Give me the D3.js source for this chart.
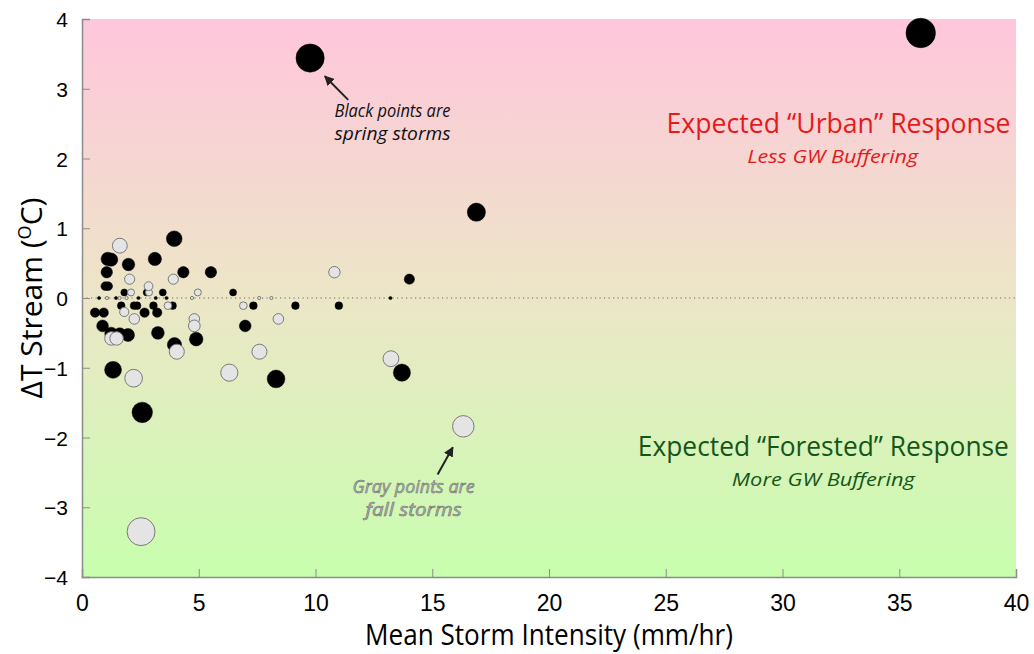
<!DOCTYPE html>
<html>
<head>
<meta charset="utf-8">
<script src="https://cdn.jsdelivr.net/npm/d3@7"></script>
<style>
  html, body { margin: 0; padding: 0; background: #ffffff; }
  svg { display: block; }
</style>
</head>
<body>
<svg id="chart" width="1034" height="654"></svg>
<script>
// Spring storms (black): mean storm intensity (mm/hr) and stream temperature change (°C)
const springIntensity = [9.77, 35.92, 16.89, 3.95, 1.10, 1.25, 1.99, 3.12, 1.06, 4.34, 5.52, 14.02,
  1.00, 1.12, 1.81, 2.77, 3.46, 6.47, 0.73, 1.46, 2.42, 3.16, 3.62, 13.21,
  0.56, 0.93, 1.68, 2.23, 2.36, 3.06, 3.88, 7.34, 9.14, 11.00, 2.68, 3.22,
  0.88, 6.99, 1.25, 1.62, 1.97, 3.25, 4.89, 3.96, 1.33, 2.58, 8.31, 13.70];
const springDeltaT = [3.44, 3.80, 1.23, 0.85, 0.56, 0.55, 0.48, 0.56, 0.37, 0.37, 0.37, 0.27,
  0.17, 0.17, 0.08, 0.08, 0.08, 0.08, 0.00, 0.00, 0.00, 0.00, 0.00, 0.00,
  -0.21, -0.21, -0.11, -0.11, -0.11, -0.11, -0.11, -0.11, -0.11, -0.11, -0.21, -0.21,
  -0.40, -0.40, -0.51, -0.52, -0.53, -0.50, -0.59, -0.67, -1.03, -1.64, -1.16, -1.07];

// Fall storms (gray)
const fallIntensity = [1.62, 2.04, 3.91, 10.81, 2.85, 2.10, 2.87, 4.96, 1.07, 1.61, 1.91, 4.71,
  7.59, 8.11, 3.68, 6.91, 1.81, 2.24, 4.81, 4.81, 8.41, 1.26, 1.48, 4.06,
  7.60, 2.21, 6.31, 13.23, 16.33, 2.53];
const fallDeltaT = [0.75, 0.27, 0.27, 0.37, 0.17, 0.08, 0.08, 0.08, 0.00, 0.00, 0.00, 0.00,
  0.00, 0.00, -0.11, -0.11, -0.20, -0.30, -0.30, -0.40, -0.30, -0.58, -0.58, -0.77,
  -0.77, -1.15, -1.07, -0.87, -1.84, -3.35];

const xTicks = [0, 5, 10, 15, 20, 25, 30, 35, 40];
const yTicks = [-4, -3, -2, -1, 0, 1, 2, 3, 4];

const svg = d3.select("#chart");
const plotLeft = 82, plotRight = 1016, plotTop = 19, plotBottom = 577;

const x = d3.scaleLinear().domain([0, 40]).range([plotLeft, plotRight]);
const y = d3.scaleLinear().domain([-4, 4]).range([plotBottom, plotTop]);
// Marker radius grows with the magnitude of the temperature change
const r = d3.scaleSqrt().domain([0, 4]).range([1.6, 15.1]);

// Background: pink (warming) at the top to green (buffered) at the bottom
const defs = svg.append("defs");
const grad = defs.append("linearGradient").attr("id", "bg")
  .attr("x1", 0).attr("y1", 0).attr("x2", 0).attr("y2", 1);
grad.append("stop").attr("offset", "0%").attr("stop-color", "#ffc6dc");
grad.append("stop").attr("offset", "50%").attr("stop-color", "#ece6c7");
grad.append("stop").attr("offset", "100%").attr("stop-color", "#c8feae");

svg.append("rect")
  .attr("x", plotLeft).attr("y", plotTop)
  .attr("width", plotRight - plotLeft).attr("height", plotBottom - plotTop)
  .attr("fill", "url(#bg)");

// Zero reference line
svg.append("line")
  .attr("x1", plotLeft).attr("x2", plotRight)
  .attr("y1", y(0)).attr("y2", y(0))
  .attr("stroke", "#666").attr("stroke-width", 1.2)
  .attr("stroke-dasharray", "1.2,3.3");

// Axes with inward ticks
const xAxis = d3.axisBottom(x).tickValues(xTicks).tickSize(-8).tickPadding(18)
  .tickFormat(d3.format("d"));
const yAxis = d3.axisLeft(y).tickValues(yTicks).tickSize(-8).tickPadding(14)
  .tickFormat(d => d < 0 ? "\u2212" + Math.abs(d) : String(d));

const gx = svg.append("g").attr("transform", `translate(0,${plotBottom})`).call(xAxis);
const gy = svg.append("g").attr("transform", `translate(${plotLeft},0)`).call(yAxis);

[gx, gy].forEach(g => {
  g.select(".domain").attr("stroke", "#8c8c8c").attr("stroke-width", 1.5);
  g.selectAll(".tick line").attr("stroke", "#8c8c8c").attr("stroke-width", 1);
  g.selectAll(".tick text").attr("fill", "#000");
});
gx.selectAll(".tick text")
  .style("font-family", "'Liberation Sans Narrow', 'Liberation Sans', sans-serif")
  .style("font-size", "23px");
gy.selectAll(".tick text")
  .style("font-family", "'Liberation Sans', Arial, sans-serif")
  .style("font-size", "21px")
  .attr("dy", "0.36em");

// Axis titles
svg.append("text")
  .attr("x", (plotLeft + plotRight) / 2).attr("y", 645)
  .attr("text-anchor", "middle")
  .attr("textLength", 368).attr("lengthAdjust", "spacingAndGlyphs")
  .style("font-family", "'Open Sans', sans-serif").style("font-size", "29px")
  .text("Mean Storm Intensity (mm/hr)");

const yTitle = svg.append("text")
  .attr("transform", `translate(42,${y(0)}) rotate(-90)`)
  .attr("text-anchor", "middle")
  .style("font-family", "'Open Sans', sans-serif").style("font-size", "30px");
yTitle.append("tspan").text("\u0394T Stream (");
yTitle.append("tspan").attr("dy", -11).style("font-size", "18px").text("O");
yTitle.append("tspan").attr("dy", 11).text("C)");

// Storm points, smaller changes drawn first so larger markers sit on top
const points = springIntensity.map((v, i) => ({ x: v, y: springDeltaT[i], season: "spring" }))
  .concat(fallIntensity.map((v, i) => ({ x: v, y: fallDeltaT[i], season: "fall" })))
  .sort((a, b) => Math.abs(a.y) - Math.abs(b.y));

svg.append("g").selectAll("circle")
  .data(points)
  .join("circle")
  .attr("cx", d => x(d.x))
  .attr("cy", d => y(d.y))
  .attr("r", d => r(Math.abs(d.y)))
  .attr("fill", d => d.season === "spring" ? "#000" : "#e4e4e4")
  .attr("stroke", d => d.season === "spring" ? "#000" : "#7a7a7a")
  .attr("stroke-width", d => d.season === "spring" ? 0.5 : 1);

// Response annotations
const note = (tx, ty, str, opts) => svg.append("text")
  .attr("x", x(tx)).attr("y", y(ty))
  .attr("text-anchor", "middle")
  .attr("textLength", opts.len).attr("lengthAdjust", "spacingAndGlyphs")
  .style("font-family", "'Open Sans', sans-serif")
  .style("font-size", opts.size + "px")
  .style("font-style", opts.italic ? "italic" : "normal")
  .attr("fill", opts.fill)
  .attr("stroke", opts.stroke || "none")
  .attr("stroke-width", opts.sw || 0)
  .text(str);

note(32.4, 2.37, "Expected \u201cUrban\u201d Response", { size: 27, len: 344, fill: "#e41a1c" });
note(32.15, 1.94, "Less GW Buffering", { size: 19, len: 171, fill: "#e41a1c", italic: true });
note(31.75, -2.27, "Expected \u201cForested\u201d Response", { size: 27, len: 371, fill: "#14561a" });
note(31.75, -2.69, "More GW Buffering", { size: 19, len: 183, fill: "#14561a", italic: true });

note(13.3, 2.6, "Black points are", { size: 18, len: 116, fill: "#111", italic: true });
note(13.3, 2.27, "spring storms", { size: 18, len: 116, fill: "#111", italic: true });
note(14.2, -2.79, "Gray points are", { size: 18, len: 122, fill: "#b0b0b0", italic: true, stroke: "#6a6a6a", sw: 0.5 });
note(14.2, -3.12, "fall storms", { size: 18, len: 96, fill: "#b0b0b0", italic: true, stroke: "#6a6a6a", sw: 0.5 });

// Arrows pointing at example storms
defs.append("marker").attr("id", "head")
  .attr("viewBox", "0 0 10 10").attr("refX", 9).attr("refY", 5)
  .attr("markerWidth", 5).attr("markerHeight", 5).attr("orient", "auto")
  .append("path").attr("d", "M0,0 L10,5 L0,10 Z").attr("fill", "#222");

const arrow = (x1, y1, x2, y2) => svg.append("line")
  .attr("x1", x(x1)).attr("y1", y(y1)).attr("x2", x(x2)).attr("y2", y(y2))
  .attr("stroke", "#222").attr("stroke-width", 2)
  .attr("marker-end", "url(#head)");

arrow(11.4, 2.84, 10.4, 3.18);
arrow(15.23, -2.53, 15.88, -2.14);
</script>
</body>
</html>
